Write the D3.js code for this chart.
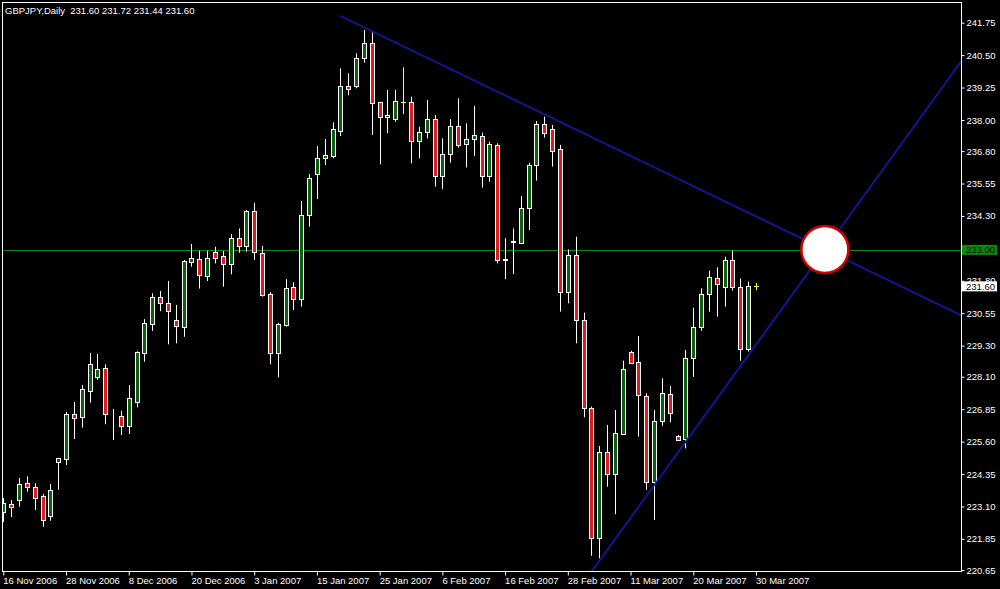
<!DOCTYPE html>
<html><head><meta charset="utf-8">
<script src="https://cdn.jsdelivr.net/npm/d3@7"></script>
<style>
html,body{margin:0;padding:0;background:#000;}
svg{display:block;}
text{font-family:"Liberation Sans",Arial,sans-serif;}
</style>
</head><body>
<svg id="c" width="1000" height="589"></svg>
<script>
// ---------------- DATA ----------------
const symbol = "GBPJPY,Daily";
const opens = [222.89,223.20,223.34,223.99,223.84,223.50,222.73,224.80,224.92,226.65,
226.54,227.56,228.09,228.43,226.64,226.60,226.21,227.14,229.00,230.15,
231.16,230.93,230.29,230.03,232.54,232.64,231.98,232.91,232.74,232.44,
233.44,233.15,234.49,232.88,231.29,229.00,230.10,231.55,231.09,234.34,
235.92,236.52,236.61,237.59,239.31,239.32,240.38,240.96,238.68,238.10,
238.03,238.68,238.68,237.19,237.55,238.04,235.85,236.68,237.77,237.07,
237.26,237.38,235.84,237.04,232.64,233.32,233.25,234.59,236.26,237.83,
237.64,236.87,231.36,232.79,230.29,226.88,221.87,225.19,224.34,225.88,
229.04,228.66,227.36,224.03,226.41,227.44,225.83,225.69,228.81,230.03,
231.28,231.92,231.55,232.60,231.55,229.16,231.60];
const highs = [223.43,223.35,224.20,224.26,223.99,223.58,223.97,224.97,226.75,227.13,
227.78,229.02,228.98,228.58,226.86,226.79,227.78,229.08,230.32,231.32,
231.41,231.79,230.87,232.60,233.22,232.96,232.96,233.11,232.95,233.60,
233.82,234.53,234.81,233.14,231.36,230.18,231.86,231.74,234.88,235.92,
236.99,237.27,237.91,239.99,239.80,240.57,241.47,241.38,238.70,239.16,
239.16,240.03,238.90,237.74,238.77,238.19,237.29,238.03,238.84,237.87,
238.54,237.51,237.16,237.10,233.44,233.82,235.07,236.35,237.96,238.13,
237.81,237.04,233.01,233.50,230.57,226.95,225.43,226.24,226.82,228.72,
229.10,229.67,227.46,226.82,228.04,227.74,225.86,229.13,230.76,231.51,
232.19,232.32,232.73,232.96,231.89,231.77,231.72];
const lows = [222.50,222.69,223.09,223.67,222.96,222.32,222.55,223.74,224.70,225.70,
226.14,227.10,227.98,226.27,225.66,225.85,225.89,226.92,228.68,229.87,
230.63,229.35,229.39,229.64,232.34,231.50,231.79,232.47,231.57,232.05,
232.88,232.92,232.60,231.19,228.58,228.07,230.03,230.67,230.80,233.89,
234.95,236.26,236.52,237.38,238.95,239.22,240.21,237.42,236.29,237.49,
237.93,238.23,236.33,236.52,237.29,235.43,235.33,236.35,236.93,236.17,
236.61,235.39,235.62,232.47,231.86,232.06,233.22,233.76,235.66,237.32,
236.20,230.61,230.93,229.39,226.54,221.20,221.10,223.86,222.80,225.86,
228.62,225.79,223.74,222.58,226.21,226.34,225.62,225.34,228.10,229.87,
230.61,230.42,230.80,231.42,228.72,229.07,231.44];
const closes = [223.23,223.08,223.96,223.86,223.44,222.58,223.73,224.97,226.67,226.50,
227.63,228.59,228.39,226.66,226.62,226.21,227.27,229.04,230.16,231.16,
230.93,230.64,230.07,232.57,232.67,232.02,232.67,232.69,232.44,233.44,
233.15,234.49,232.92,231.25,229.00,230.13,231.51,231.09,234.34,235.75,
236.55,236.65,237.64,239.31,239.18,240.38,240.96,238.64,238.10,238.19,
238.73,238.68,237.19,237.55,238.04,235.85,236.68,237.77,237.04,237.26,
237.41,235.84,237.06,232.60,232.62,233.30,234.59,236.26,237.83,237.49,
236.81,231.36,232.79,230.29,226.91,221.87,225.19,224.34,225.92,228.39,
228.64,227.40,224.03,226.41,227.46,226.69,225.66,228.81,230.03,231.28,
231.93,231.67,232.60,231.55,229.16,231.60,231.60];
const dateLabels = ["16 Nov 2006","28 Nov 2006","8 Dec 2006","20 Dec 2006","3 Jan 2007",
"15 Jan 2007","25 Jan 2007","6 Feb 2007","16 Feb 2007","28 Feb 2007","11 Mar 2007",
"20 Mar 2007","30 Mar 2007"];
const barsPerLabel = 8;
const priceTicks = [241.75,240.50,239.25,238.00,236.80,235.55,234.30,231.80,230.55,
229.30,228.10,226.85,225.60,224.35,223.10,221.85,220.65];
const hLinePrice = 233.00;
const trend1 = [{bar:43, price:242.01},{bar:69, price:238.22}];  // ray to the right
const trend2 = [{bar:76, price:220.99},{bar:95, price:228.92}];  // extended line

// ---------------- CHART ----------------
const svg = d3.select("#c");
const frame = {left:2.5, top:2.5, right:961.5, bottom:571.5};
const n = closes.length;
const x = d3.scaleLinear().domain([0, n-1]).range([3.3, 756]);
const y = d3.scaleLinear().domain([220.65, 241.75]).range([570, 22.7]);

svg.append("rect").attr("width",1000).attr("height",589).attr("fill","#000");

svg.append("defs").append("clipPath").attr("id","plot")
  .append("rect").attr("x",frame.left).attr("y",frame.top)
  .attr("width",frame.right-frame.left).attr("height",frame.bottom-frame.top);

const g = svg.append("g").attr("clip-path","url(#plot)");

// horizontal line
g.append("line").attr("x1",frame.left).attr("x2",frame.right)
  .attr("y1",Math.round(y(hLinePrice))+0.5).attr("y2",Math.round(y(hLinePrice))+0.5)
  .attr("stroke","#0a8a0a").attr("stroke-width",1);

// candles
const idx = d3.range(n);
const cg = g.append("g");
idx.forEach(i=>{
  const cx = Math.round(x(i));
  const o=opens[i], c=closes[i], h=highs[i], l=lows[i];
  const doji = o===c;
  const wickCol = doji ? "#ffff33" : "#ffffff";
  cg.append("line").attr("x1",cx+0.5).attr("x2",cx+0.5)
    .attr("y1",y(h)).attr("y2",y(l)).attr("stroke",wickCol).attr("stroke-width",1);
  if (doji) {
    const yy = Math.round(y(o))+0.5;
    cg.append("line").attr("x1",cx-2).attr("x2",cx+3).attr("y1",yy).attr("y2",yy)
      .attr("stroke",wickCol).attr("stroke-width",1);
  } else {
    const top = Math.min(y(o),y(c)), bot = Math.max(y(o),y(c));
    cg.append("rect").attr("x",cx-1.5).attr("width",4)
      .attr("y",Math.round(top)+0.5).attr("height",Math.max(0,Math.round(bot)-Math.round(top)))
      .attr("fill", c>o ? "#0b610b" : "#e3191b")
      .attr("stroke","#ffffff").attr("stroke-width",1);
  }
});

// trend lines
function lineAt(t, bar){
  const slope = (t[1].price - t[0].price)/(t[1].bar - t[0].bar);
  return t[0].price + slope*(bar - t[0].bar);
}
const xEnd = x.invert(frame.right+2);
const xStart2 = x.invert(frame.left-2);
g.append("line")
  .attr("x1",x(trend1[0].bar)).attr("y1",y(trend1[0].price))
  .attr("x2",x(xEnd)).attr("y2",y(lineAt(trend1,xEnd)))
  .attr("stroke","#16169e").attr("stroke-width",1.8);
g.append("line")
  .attr("x1",x(xStart2)).attr("y1",y(lineAt(trend2,xStart2)))
  .attr("x2",x(xEnd)).attr("y2",y(lineAt(trend2,xEnd)))
  .attr("stroke","#16169e").attr("stroke-width",1.8);

// intersection circle
const s1 = (trend1[1].price-trend1[0].price)/(trend1[1].bar-trend1[0].bar);
const s2 = (trend2[1].price-trend2[0].price)/(trend2[1].bar-trend2[0].bar);
const bi = (trend2[0].price - s2*trend2[0].bar - trend1[0].price + s1*trend1[0].bar)/(s1 - s2);
const pi = lineAt(trend1, bi);
g.append("circle").attr("cx",x(bi)).attr("cy",y(pi)).attr("r",23.5)
  .attr("fill","#ffffff").attr("stroke","#d40000").attr("stroke-width",2.5);

// frame
svg.append("rect").attr("x",frame.left).attr("y",frame.top)
  .attr("width",frame.right-frame.left).attr("height",frame.bottom-frame.top)
  .attr("fill","none").attr("stroke","#ffffff").attr("stroke-width",1);

// right axis
const ya = svg.append("g").attr("transform",`translate(${frame.right},0)`)
  .call(d3.axisRight(y).tickValues(priceTicks).tickSize(3).tickPadding(2)
    .tickFormat(d3.format(".2f")));
ya.select(".domain").remove();
ya.selectAll(".tick line").attr("stroke","#fff");
ya.selectAll(".tick text").attr("fill","#fff").style("font-size","9.5px")
  .style("font-family","'Liberation Sans',Arial,sans-serif");

// bottom axis
const xa = svg.append("g").attr("transform",`translate(0,${frame.bottom})`)
  .call(d3.axisBottom(x).tickValues(dateLabels.map((d,k)=>k*barsPerLabel))
    .tickSize(4).tickFormat((d,k)=>dateLabels[k]));
xa.select(".domain").remove();
xa.selectAll(".tick line").attr("stroke","#fff");
xa.selectAll(".tick text").attr("fill","#fff").attr("text-anchor","start")
  .attr("y",12.5).attr("dy",0).attr("x",-0.5).style("font-size","9.5px")
  .style("font-family","'Liberation Sans',Arial,sans-serif");

// horizontal line label
const yh = y(hLinePrice);
svg.append("rect").attr("x",962).attr("y",yh-4.8).attr("width",35).attr("height",10)
  .attr("fill","#0a8a0a");
svg.append("text").attr("x",966).attr("y",yh+3.4).attr("fill","#000")
  .style("font-size","9.5px").text(d3.format(".2f")(hLinePrice));

// current price label
const last = closes[n-1];
const yl = y(last);
svg.append("rect").attr("x",962).attr("y",yl-4.6).attr("width",35).attr("height",10)
  .attr("fill","#fff");
svg.append("text").attr("x",966).attr("y",yl+3.6).attr("fill","#000")
  .style("font-size","9.5px").text(d3.format(".2f")(last));

// title
svg.append("text").attr("x",5).attr("y",13.5).attr("fill","#fff")
  .style("font-size","9.5px").attr("xml:space","preserve").style("white-space","pre")
  .text(`${symbol}  ${[opens[n-1],highs[n-1],lows[n-1],closes[n-1]].map(d3.format(".2f")).join(" ")}`);
</script>
</body></html>
